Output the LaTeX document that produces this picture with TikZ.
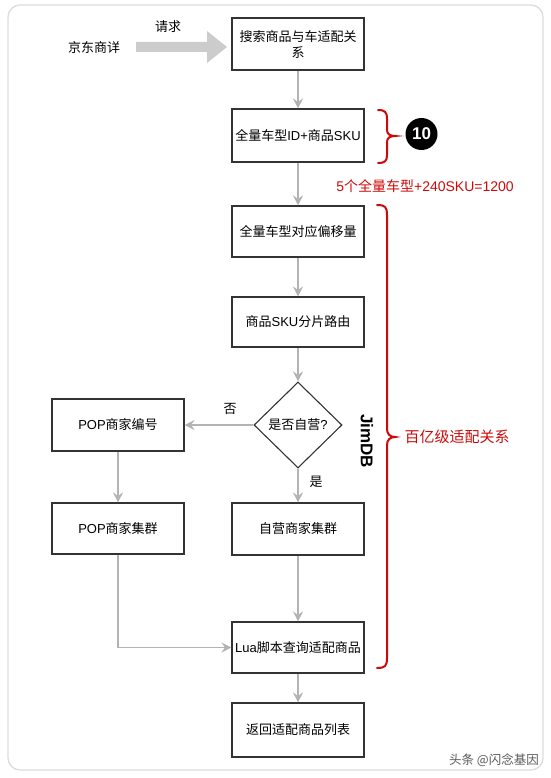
\documentclass[tikz,border=0pt]{standalone}
\usepackage{fontspec}
\setmainfont{Noto Sans CJK SC}
\newfontfamily\lat{Liberation Sans}
\usetikzlibrary{arrows.meta,shapes.geometric}
\definecolor{conn}{RGB}{179,179,179}
\definecolor{fat}{RGB}{204,204,204}
\definecolor{boxline}{RGB}{51,51,51}
\definecolor{rd}{RGB}{204,10,10}
\definecolor{frame}{RGB}{220,220,220}
\tikzset{
  box/.style={draw=boxline, line width=1.1pt, minimum width=132pt, minimum height=52pt, inner sep=1pt, align=center, font=\fontsize{13}{16}\selectfont},
  dia/.style={draw=boxline, line width=1.1pt, diamond, minimum width=88pt, minimum height=86pt, inner sep=0pt, font=\fontsize{13}{16}\selectfont},
  conn/.style={draw=conn, line width=1.6pt, -{Stealth[length=10pt,width=10pt,inset=3.5pt]}},
  lbl/.style={font=\fontsize{13}{16}\selectfont, inner sep=0pt},
  redbrace/.style={draw=rd, line width=2pt, line cap=round},
}
\begin{document}
\begin{tikzpicture}[x=1pt,y=-1pt]
\useasboundingbox (0,0) rectangle (550,778);
\draw[frame, line width=1.3pt, rounded corners=12pt] (8,5) rectangle (543,770);

% nodes
\node[box] (b1) at (298,44) {搜索商品与车适配关\\系};
\node[box, minimum height=53pt] (b2) at (298,135.5) {全量车型{\lat ID+}商品{\lat SKU}};
\node[box, minimum height=51pt] (b3) at (298,231.5) {全量车型对应偏移量};
\node[box, minimum height=50pt] (b4) at (298,322) {商品{\lat SKU}分片路由};
\node[dia] (d) at (298,425) {是否自营{\lat ?}};
\node[box] (p1) at (118,425) {{\lat POP}商家编号};
\node[box, minimum height=51pt] (p2) at (118,528.5) {{\lat POP}商家集群};
\node[box] (s) at (298,529) {自营商家集群};
\node[box, minimum height=51pt] (lua) at (298,647.5) {{\lat Lua}脚本查询适配商品};
\node[box, minimum height=54pt] (ret) at (298,730) {返回适配商品列表};

\node[lbl] (jd) at (94,48) {京东商详};
\node[lbl] (req) at (168,27) {请求};
\node[lbl] (no) at (230,409) {否};
\node[lbl] (yes) at (316,482) {是};

% fat arrow
\fill[fat] (136,42) -- (207,42) -- (207,31) -- (227,47) -- (207,63) -- (207,52) -- (136,52) -- cycle;

% connectors
\draw[conn] (b1) -- (b2);
\draw[conn] (b2) -- (b3);
\draw[conn] (b3) -- (b4);
\draw[conn] (b4.south) -- (d.north);
\draw[conn] (d.west) -- (p1.east);
\draw[conn] (d.south) -- (s.north);
\draw[conn] (p1) -- (p2);
\draw[conn] (s) -- (lua);
\draw[conn] (p2.south) |- (lua.west);
\draw[conn] (lua) -- (ret);

% small brace
\draw[redbrace] (378,110) .. controls (385,110) and (387,112) .. (387,119) -- (387,130) .. controls (387,134) and (390,136) .. (395,136) .. controls (390,136) and (387,138) .. (387,142) -- (387,155) .. controls (387,161) and (385,163) .. (378,163);
\node[circle, fill=black, minimum size=32pt, inner sep=0pt, text=white, font=\lat\bfseries\fontsize{17}{17}\selectfont] (ten) at (421.5,134) {10};
\node[text=rd, font=\fontsize{14}{16}\selectfont, inner sep=0pt] (cnt) at (425,186) {{\lat 5}个全量车型{\lat +240SKU=1200}};

% big brace
\draw[redbrace] (377,205) .. controls (385,205) and (387,207) .. (387,215) -- (387,429) .. controls (387,434) and (390,437) .. (395,437) .. controls (390,437) and (387,440) .. (387,445) -- (387,658) .. controls (387,666) and (385,668) .. (377,668);
\node[text=rd, font=\fontsize{15}{17}\selectfont, inner sep=0pt] (bil) at (457,437) {百亿级适配关系};
\node[rotate=-90, font=\lat\bfseries\fontsize{17}{17}\selectfont, inner sep=0pt] (jim) at (367,441) {JimDB};

% watermark
\node[text=black!65, font=\fontsize{12.5}{14}\selectfont, inner sep=0pt, anchor=east] (wm) at (539,760) {头条 @闪念基因};
\end{tikzpicture}
\end{document}
